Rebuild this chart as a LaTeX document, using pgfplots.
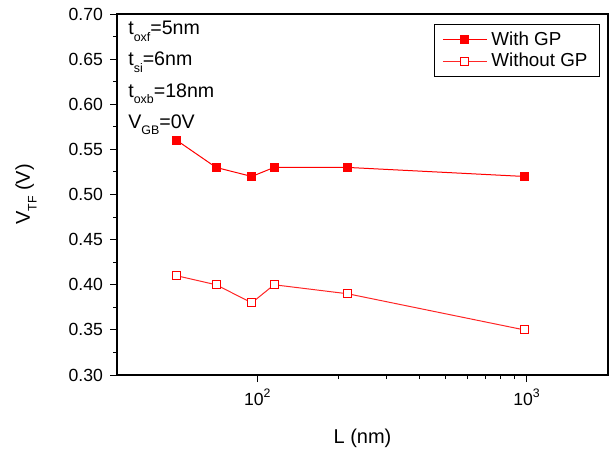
\documentclass[border=0pt]{standalone}
\usepackage{fontspec}
\setmainfont{Liberation Sans}
\usepackage{pgfplots}
\pgfplotsset{compat=1.18}
\newcommand\sub[1]{\raisebox{-3.4pt}{\fontsize{6.2}{7}\selectfont #1}}
\begin{document}
\begin{tikzpicture}
\useasboundingbox (-58.5pt,-38.5pt) rectangle (249pt,187.5pt);
\begin{axis}[
  at={(0,0)}, anchor=south west,
  scale only axis, width=245.5pt, height=180.5pt,
  xmode=log, xmin=30, xmax=2000,
  ymin=0.3, ymax=0.7,
  xtick={100,1000},
  xticklabels={10\textsuperscript{2},10\textsuperscript{3}},
  ytick={0.30,0.35,...,0.71},
  minor y tick num=1,
  yticklabel={\pgfmathprintnumber[fixed,fixed zerofill,precision=2]{\tick}},
  /pgf/number format/assume math mode=true,
  tick align=outside,
  xtick pos=bottom, ytick pos=left,
  major tick length=3.5pt, minor tick length=2pt,
  axis line style={line width=0.6pt},
  tick style={line width=0.5pt, black},
  tick label style={font=\fontsize{8.8}{10}\selectfont},
  xlabel={L (nm)},
  ylabel={V\sub{TF} (V)},
  label style={font=\fontsize{11}{13}\selectfont},
  every axis x label/.style={at={(axis description cs:0.5,-0.1745)}, anchor=center},
  every axis y label/.style={at={(axis description cs:-0.1853,0.5)}, rotate=90, anchor=center},
  legend style={at={(axis description cs:1,1)}, anchor=north east, xshift=-4pt, yshift=-5pt,
    draw=black, line width=0.5pt, font=\fontsize{9.4}{11}\selectfont, inner xsep=4pt, inner ysep=1.5pt,
    row sep=-1.5pt},
  legend cell align=left,
  legend image code/.code={\draw[mark repeat=2,mark phase=2,#1] plot coordinates {(0pt,0pt) (11pt,0pt) (22pt,0pt)};},
]
\addplot[red, line width=0.5pt, mark=square*, mark size=2pt, mark options={solid, fill=red}]
  coordinates {(50,0.56) (70,0.53) (95,0.52) (115,0.53) (216,0.53) (977,0.52)};
\addlegendentry{With GP}
\addplot[red!85!white, line width=0.5pt, mark=square*, mark size=2pt, mark options={solid, fill=white, draw=red}]
  coordinates {(50,0.41) (70,0.40) (95,0.38) (115,0.40) (216,0.39) (977,0.35)};
\addlegendentry{Without GP}
\node[anchor=base west, font=\fontsize{9.8}{11}\selectfont, inner sep=0pt] at (axis description cs:0.0224,0.942) {t\sub{oxf}=5nm};
\node[anchor=base west, font=\fontsize{9.8}{11}\selectfont, inner sep=0pt] at (axis description cs:0.0224,0.856) {t\sub{si}=6nm};
\node[anchor=base west, font=\fontsize{9.8}{11}\selectfont, inner sep=0pt] at (axis description cs:0.0224,0.770) {t\sub{oxb}=18nm};
\node[anchor=base west, font=\fontsize{9.8}{11}\selectfont, inner sep=0pt] at (axis description cs:0.0224,0.684) {V\sub{GB}=0V};
\end{axis}
\end{tikzpicture}
\end{document}
